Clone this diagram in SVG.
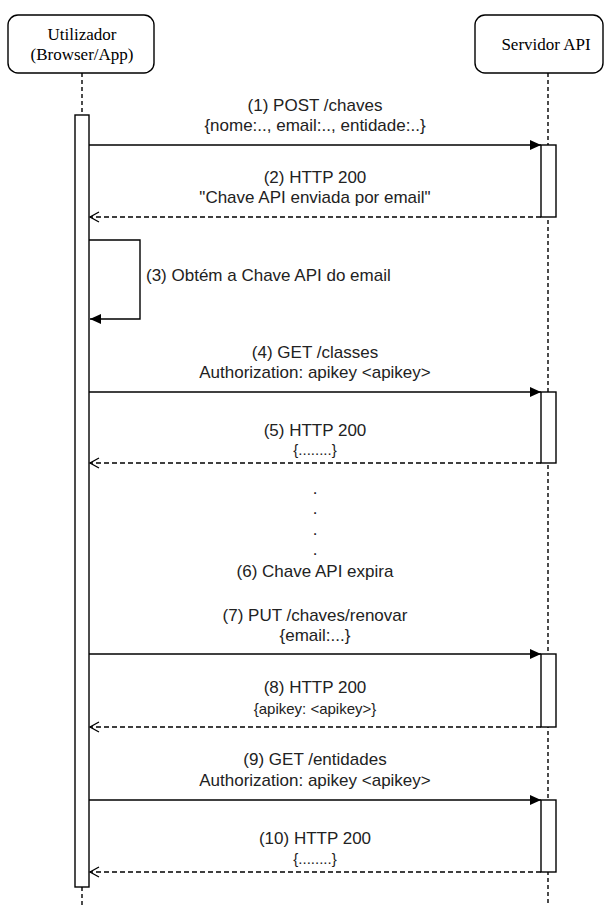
<svg xmlns="http://www.w3.org/2000/svg" width="611" height="910" viewBox="0 0 611 910">
<style>
.box{fill:#fff;stroke:#000;stroke-width:1.4}
.bar{fill:#fff;stroke:#000;stroke-width:1.4}
.life{stroke:#000;stroke-width:1.4;stroke-dasharray:4 3;fill:none}
.msg{stroke:#000;stroke-width:1.4;fill:none}
.ret{stroke:#000;stroke-width:1.4;fill:none;stroke-dasharray:5 3}
.pt{font-family:"Liberation Serif","Times New Roman",serif;font-size:17px;fill:#000;text-anchor:middle}
.lb{font-family:"Liberation Sans",Arial,Helvetica,sans-serif;font-size:17px;fill:#222;text-anchor:middle}
.sm{font-family:"Liberation Sans",Arial,Helvetica,sans-serif;font-size:15px;fill:#222;text-anchor:middle}
.lbl{font-family:"Liberation Sans",Arial,Helvetica,sans-serif;font-size:17px;fill:#222}
</style>
<defs>
<marker id="block" markerWidth="12" markerHeight="10" refX="11" refY="5" orient="auto" markerUnits="userSpaceOnUse">
<path d="M0,0 L11,5 L0,10 Z" fill="#000"/>
</marker>
<marker id="open" markerWidth="12" markerHeight="12" refX="10" refY="6" orient="auto" markerUnits="userSpaceOnUse">
<path d="M1,1 L10,6 L1,11" fill="none" stroke="#000" stroke-width="1.3"/>
</marker>
</defs>
<rect width="611" height="910" fill="#fff"/>

<g id="lifelines">
<line class="life" x1="82" y1="73" x2="82" y2="115"/>
<line class="life" x1="82" y1="887" x2="82" y2="905"/>
<line class="life" x1="548" y1="73" x2="548" y2="905"/>
</g>

<g id="utilizador">
<rect class="box" x="8" y="15" width="146" height="58" rx="10" ry="10"/>
<text class="pt" x="82" y="40">Utilizador</text>
<text class="pt" x="82" y="60">(Browser/App)</text>
</g>

<g id="servidor">
<rect class="box" x="475" y="15" width="128" height="58" rx="10" ry="10"/>
<text class="pt" x="546" y="50">Servidor API</text>
</g>

<g id="activation-client">
<rect class="bar" x="75" y="115" width="14" height="772"/>
</g>
<g id="activation-server">
<rect class="bar" x="541" y="145" width="15" height="72"/>
<rect class="bar" x="541" y="392" width="15" height="71"/>
<rect class="bar" x="541" y="654" width="15" height="73"/>
<rect class="bar" x="541" y="800" width="15" height="72"/>
</g>

<g id="connectors">
<line class="msg" x1="89" y1="145" x2="541" y2="145" marker-end="url(#block)"/>
<line class="ret" x1="541" y1="217" x2="90" y2="217" marker-end="url(#open)"/>
<polyline class="msg" points="89,240 140,240 140,319 90,319" marker-end="url(#block)"/>
<line class="msg" x1="89" y1="392" x2="541" y2="392" marker-end="url(#block)"/>
<line class="ret" x1="541" y1="463" x2="90" y2="463" marker-end="url(#open)"/>
<line class="msg" x1="89" y1="654" x2="541" y2="654" marker-end="url(#block)"/>
<line class="ret" x1="541" y1="727" x2="90" y2="727" marker-end="url(#open)"/>
<line class="msg" x1="89" y1="800" x2="541" y2="800" marker-end="url(#block)"/>
<line class="ret" x1="541" y1="872" x2="90" y2="872" marker-end="url(#open)"/>
</g>

<g id="labels">
<text class="lb" x="315" y="111">(1) POST /chaves</text>
<text class="lb" x="315" y="131">{nome:.., email:.., entidade:..}</text>
<text class="lb" x="315" y="183">(2) HTTP 200</text>
<text class="lb" x="315" y="203">"Chave API enviada por email"</text>
<text class="lbl" x="146" y="281">(3) Obtém a Chave API do email</text>
<text class="lb" x="315" y="358">(4) GET /classes</text>
<text class="lb" x="315" y="378">Authorization: apikey &lt;apikey&gt;</text>
<text class="lb" x="315" y="436">(5) HTTP 200</text>
<text class="sm" x="315" y="455">{........}</text>
<text class="lb" x="315" y="494">.</text>
<text class="lb" x="315" y="514">.</text>
<text class="lb" x="315" y="535">.</text>
<text class="lb" x="315" y="555">.</text>
<text class="lb" x="315" y="577">(6) Chave API expira</text>
<text class="lb" x="315" y="621">(7) PUT /chaves/renovar</text>
<text class="lb" x="315" y="641">{email:...}</text>
<text class="lb" x="315" y="693">(8) HTTP 200</text>
<text class="sm" x="315" y="714">{apikey: &lt;apikey&gt;}</text>
<text class="lb" x="315" y="765">(9) GET /entidades</text>
<text class="lb" x="315" y="786">Authorization: apikey &lt;apikey&gt;</text>
<text class="lb" x="315" y="844">(10) HTTP 200</text>
<text class="sm" x="315" y="864">{........}</text>
</g>
</svg>
